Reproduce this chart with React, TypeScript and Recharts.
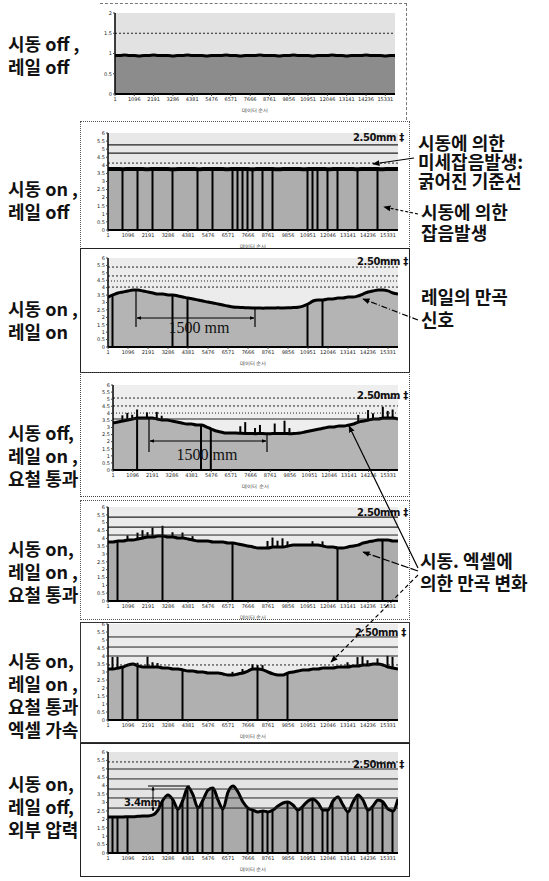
import React from 'react';
import { ComposedChart, Area, Bar, XAxis, YAxis, CartesianGrid, ReferenceLine } from 'recharts';

// ---------- data ----------
const xTickIdx = [0, 4, 8, 12, 16, 20, 24, 28, 32, 36, 40, 44, 48, 52, 56];
const xTickLabels = ['1', '1096', '2191', '3286', '4381', '5476', '6571', '7666', '8761', '9856', '10951', '12046', '13141', '14236', '15331'];
const xTitle = '데이터 순서';

const p1Ticks = [0, 0.5, 1, 1.5, 2];
const mmTicks = [0, 0.5, 1, 1.5, 2, 2.5, 3, 3.5, 4, 4.5, 5, 5.5, 6];

const p1Values = [
  0.95, 0.95, 0.96, 0.95, 0.95, 0.94, 0.95, 0.95, 0.96, 0.95,
  0.95, 0.95, 0.94, 0.95, 0.95, 0.96, 0.95, 0.95, 0.95, 0.94,
  0.95, 0.95, 0.95, 0.96, 0.95, 0.95, 0.94, 0.95, 0.95, 0.95,
  0.96, 0.95, 0.95, 0.95, 0.94, 0.95, 0.95, 0.96, 0.95, 0.95,
  0.95, 0.94, 0.95, 0.95, 0.95, 0.96, 0.95, 0.95, 0.94, 0.95,
  0.95, 0.95, 0.96, 0.95, 0.95, 0.95, 0.94, 0.95, 0.95,
];
const p2Values = [
  3.77, 3.78, 3.77, 3.76, 3.77, 3.78, 3.77, 3.77, 3.76, 3.77,
  3.78, 3.77, 3.77, 3.76, 3.77, 3.77, 3.78, 3.77, 3.76, 3.77,
  3.77, 3.78, 3.77, 3.77, 3.76, 3.77, 3.78, 3.77, 3.77, 3.76,
  3.77, 3.78, 3.77, 3.77, 3.76, 3.77, 3.77, 3.78, 3.77, 3.76,
  3.77, 3.77, 3.78, 3.77, 3.76, 3.77, 3.77, 3.78, 3.77, 3.77,
  3.76, 3.77, 3.78, 3.77, 3.77, 3.76, 3.77, 3.78, 3.77,
];
const p3Values = [
  3.37, 3.51, 3.64, 3.71, 3.78, 3.84, 3.84, 3.78, 3.71, 3.64,
  3.57, 3.57, 3.51, 3.51, 3.44, 3.37, 3.30, 3.24, 3.17, 3.10,
  3.03, 2.97, 2.90, 2.83, 2.76, 2.70, 2.68, 2.66, 2.64, 2.63,
  2.63, 2.62, 2.63, 2.63, 2.64, 2.63, 2.64, 2.66, 2.68, 2.76,
  2.90, 3.10, 3.17, 3.17, 3.24, 3.24, 3.30, 3.30, 3.37, 3.37,
  3.44, 3.57, 3.71, 3.78, 3.84, 3.84, 3.78, 3.64, 3.57,
];
const p4Values = [
  3.32, 3.39, 3.46, 3.53, 3.60, 3.67, 3.67, 3.67, 3.67, 3.60,
  3.53, 3.53, 3.46, 3.39, 3.32, 3.25, 3.25, 3.18, 3.18, 3.04,
  2.89, 2.75, 2.68, 2.61, 2.61, 2.61, 2.59, 2.58, 2.58, 2.56,
  2.58, 2.56, 2.56, 2.58, 2.58, 2.58, 2.56, 2.58, 2.61, 2.68,
  2.75, 2.82, 2.89, 2.96, 3.04, 3.04, 3.11, 3.11, 3.18, 3.25,
  3.39, 3.46, 3.53, 3.60, 3.60, 3.67, 3.67, 3.67, 3.60,
];
const p5Values = [
  3.77, 3.77, 3.83, 3.83, 3.89, 3.89, 3.96, 4.02, 4.09, 4.09,
  4.15, 4.15, 4.09, 4.09, 4.02, 4.02, 3.96, 3.89, 3.83, 3.83,
  3.83, 3.77, 3.77, 3.77, 3.70, 3.70, 3.64, 3.57, 3.51, 3.45,
  3.38, 3.38, 3.38, 3.45, 3.45, 3.45, 3.51, 3.57, 3.57, 3.57,
  3.57, 3.57, 3.57, 3.51, 3.45, 3.45, 3.38, 3.38, 3.45, 3.51,
  3.57, 3.70, 3.77, 3.83, 3.89, 3.89, 3.89, 3.83, 3.83,
];
const p6Values = [
  3.19, 3.19, 3.25, 3.31, 3.44, 3.50, 3.38, 3.31, 3.31, 3.31,
  3.31, 3.25, 3.25, 3.19, 3.19, 3.13, 3.06, 3.06, 3.00, 3.00,
  2.94, 2.94, 2.94, 2.88, 2.81, 2.81, 2.88, 2.94, 3.06, 3.19,
  3.19, 3.13, 3.00, 2.88, 2.81, 2.81, 2.94, 3.00, 3.06, 3.13,
  3.13, 3.19, 3.19, 3.25, 3.25, 3.25, 3.31, 3.31, 3.31, 3.38,
  3.38, 3.44, 3.44, 3.50, 3.50, 3.44, 3.31, 3.25, 3.19,
];
const p7Values = [
  2.14, 2.14, 2.14, 2.14, 2.16, 2.16, 2.18, 2.20, 2.20, 2.26,
  2.55, 3.15, 3.45, 3.15, 2.61, 3.15, 3.92, 3.45, 2.67, 3.15,
  3.74, 3.86, 3.15, 2.61, 3.62, 3.98, 3.62, 3.03, 2.67, 2.55,
  2.44, 2.50, 2.44, 2.55, 2.79, 2.97, 3.03, 2.85, 2.55, 2.79,
  3.09, 3.21, 2.97, 2.55, 2.55, 3.09, 3.33, 2.85, 2.44, 3.03,
  3.45, 3.15, 2.55, 2.79, 3.15, 3.03, 2.61, 2.50, 3.21,
];

// vertical noise lines (sample index) reaching the curve
const p2Posts = [3, 6, 9, 13, 18, 21, 25, 26, 27, 28, 29, 31, 33, 40, 41, 42, 44, 46, 50, 54];
const p3Posts = [1, 13, 16, 40, 43];
const p4Posts = [5, 18, 20];
const p5Posts = [2, 11, 25, 46, 55];
const p6Posts = [3, 6, 15, 30, 36];
const p7Posts = [1, 2, 4, 11, 13, 14, 15, 16, 18, 19, 21, 23, 28, 29, 31, 32, 33, 36, 38, 39, 41, 43, 44, 45, 48, 50, 52, 53, 55, 57];

// small spikes above the curve: [sample index, height]
const p4Spikes = [[2, 0.4], [3, 0.5], [4, 0.3], [5, 0.6], [7, 0.4], [9, 0.5], [10, 0.3], [26, 0.5], [27, 0.8], [29, 0.4], [30, 0.6], [33, 0.7], [35, 0.9], [36, 0.4], [50, 0.5], [52, 0.7], [53, 0.4], [55, 0.8], [56, 0.5], [57, 0.6]];
const p5Spikes = [[4, 0.3], [6, 0.4], [7, 0.5], [8, 0.3], [9, 0.6], [11, 0.65], [13, 0.3], [15, 0.35], [17, 0.25], [32, 0.45], [33, 0.6], [34, 0.4], [35, 0.55], [36, 0.3], [41, 0.25], [43, 0.3]];
const p6Spikes = [[1, 0.75], [2, 0.7], [6, 0.2], [8, 0.65], [9, 0.3], [10, 0.25], [25, 0.2], [27, 0.25], [29, 0.3], [30, 0.25], [31, 0.3], [48, 0.3], [50, 0.55], [51, 0.55], [52, 0.3], [54, 0.35], [56, 0.7], [57, 0.7]];

// horizontal reference lines (value, dash)
const p1Lines = [{ y: 1.5, dash: '2 2', w: 1 }];
const p2Lines = [{ y: 5.26, w: 1.2 }, { y: 4.76, w: 1.2 }, { y: 4.14, dash: '2 2', w: 1 }];
const p3Lines = [{ y: 5.39, dash: '2 2', w: 1 }, { y: 4.79, dash: '2 2', w: 1 }, { y: 4.45, dash: '1 2', w: 1 }, { y: 4.04, dash: '2 2', w: 1 }];
const p4Lines = [{ y: 5.08, dash: '2 2', w: 1 }, { y: 4.52, dash: '2 2', w: 1 }, { y: 4.02, dash: '1 2', w: 1 }, { y: 3.6, w: 1 }];
const p5Lines = [{ y: 5.36, w: 1.2 }, { y: 4.72, w: 1.2 }, { y: 4.21, w: 1 }];
const p6Lines = [{ y: 5.19, w: 1 }, { y: 4.56, w: 1 }, { y: 4.0, w: 1 }, { y: 3.44, dash: '2 2', w: 1 }];
const p7Lines = [{ y: 5.41, dash: '2 2', w: 1 }, { y: 4.99, w: 1 }, { y: 4.4, w: 1 }, { y: 3.8, w: 1 }, { y: 3.27, w: 1 }, { y: 2.67, w: 1 }];

// ---------- layout ----------
const CHART_LEFT = 82;
const CHART_W = 328;

type PanelCfg = {
  values: number[];
  posts: number[];
  spikes: number[][];
  lines: { y: number; dash?: string; w: number }[];
  ticks: number[];
  domain: [number, number];
  plotL: number; plotR: number; plotT: number; plotB: number; top: number;
  fill: string; bg: string; sw: number;
};

const panels: PanelCfg[] = [
  { values: p1Values, posts: [], spikes: [], lines: p1Lines, ticks: p1Ticks, domain: [0, 2], plotL: 115, plotR: 395, plotT: 13, plotB: 94, top: 3, fill: '#8c8c8c', bg: '#e2e2e2', sw: 3 },
  { values: p2Values, posts: p2Posts, spikes: [], lines: p2Lines, ticks: mmTicks, domain: [0, 6], plotL: 108, plotR: 398, plotT: 133, plotB: 230, top: 121, fill: '#adadad', bg: '#e8e8e8', sw: 4 },
  { values: p3Values, posts: p3Posts, spikes: [], lines: p3Lines, ticks: mmTicks, domain: [0, 6], plotL: 108, plotR: 398, plotT: 258, plotB: 347, top: 248, fill: '#b4b4b4', bg: '#ececec', sw: 3 },
  { values: p4Values, posts: p4Posts, spikes: p4Spikes, lines: p4Lines, ticks: mmTicks, domain: [0, 6], plotL: 113, plotR: 398, plotT: 385, plotB: 470, top: 372, fill: '#b4b4b4', bg: '#eeeeee', sw: 3 },
  { values: p5Values, posts: p5Posts, spikes: p5Spikes, lines: p5Lines, ticks: mmTicks, domain: [0, 6], plotL: 108, plotR: 398, plotT: 507, plotB: 601, top: 500, fill: '#acacac', bg: '#ebebeb', sw: 3 },
  { values: p6Values, posts: p6Posts, spikes: p6Spikes, lines: p6Lines, ticks: mmTicks, domain: [0, 6], plotL: 108, plotR: 398, plotT: 624, plotB: 720, top: 622, fill: '#b0b0b0', bg: '#ececec', sw: 3 },
  { values: p7Values, posts: p7Posts, spikes: [], lines: p7Lines, ticks: mmTicks, domain: [0, 6], plotL: 108, plotR: 398, plotT: 752, plotB: 853, top: 743, fill: '#aaaaaa', bg: '#e4e4e4', sw: 3 },
];

const boxes = [
  { l: 80, t: 121, r: 410, b: 249, s: '1px dotted #555' },
  { l: 80, t: 248, r: 410, b: 373, s: '1.5px solid #222' },
  { l: 80, t: 372, r: 410, b: 497, s: '1px dotted #444' },
  { l: 80, t: 500, r: 410, b: 620, s: '1px dotted #555' },
  { l: 80, t: 622, r: 410, b: 743, s: '1px solid #333' },
  { l: 80, t: 743, r: 410, b: 877, s: '1.5px solid #222' },
];

const leftLabels = [
  { top: 32, lines: ['시동 off ,', '레일 off'] },
  { top: 177, lines: ['시동 on ,', '레일 off'] },
  { top: 297, lines: ['시동 on ,', '레일 on'] },
  { top: 421, lines: ['시동 off,', '레일 on ,', '요철 통과'] },
  { top: 537, lines: ['시동 on,', '레일 on ,', '요철 통과'] },
  { top: 649, lines: ['시동 on,', '레일 on ,', '요철 통과', '엑셀 가속'] },
  { top: 772, lines: ['시동 on,', '레일 off,', '외부 압력'] },
];

const rightNotes = [
  { left: 418, top: 133, lh: 19, lines: ['시동에 의한', '미세잡음발생:', '굵어진 기준선'] },
  { left: 421, top: 201, lh: 21, lines: ['시동에 의한', '잡음발생'] },
  { left: 421, top: 285, lh: 23, lines: ['레일의 만곡', '신호'] },
  { left: 420, top: 549, lh: 22, lines: ['시동. 엑셀에', '의한 만곡 변화'] },
];

const scaleMarks = [
  { x: 353, y: 141 },
  { x: 357, y: 265 },
  { x: 357, y: 399 },
  { x: 357, y: 516 },
  { x: 355, y: 636 },
  { x: 353, y: 768 },
];

const KFONT = '"Noto Sans CJK KR", "Noto Sans", sans-serif';

function Panel({ cfg }: { cfg: PanelCfg }) {
  const rows = cfg.values.map((v, i) => {
    const sp = cfg.spikes.find((s) => s[0] === i);
    const isPost = cfg.posts.includes(i);
    let bar: number[] | null = null;
    if (isPost && sp) bar = [0, v + sp[1]];
    else if (isPost) bar = [0, v];
    else if (sp) bar = [v, v + sp[1]];
    return { x: i, v, bar };
  });
  const xH = 18;
  const height = cfg.plotB - cfg.top + xH + 2;
  const margin = { top: cfg.plotT - cfg.top, right: CHART_LEFT + CHART_W - cfg.plotR, bottom: 2, left: 0 };
  const yW = cfg.plotL - CHART_LEFT;
  return (
    <div style={{ position: 'absolute', left: CHART_LEFT, top: cfg.top }}>
      <ComposedChart width={CHART_W} height={height} data={rows} margin={margin}>
        <CartesianGrid horizontal={false} vertical={false} fill={cfg.bg} stroke="none" />
        {cfg.lines.map((l, k) => (
          <ReferenceLine key={k} y={l.y} stroke="#222" strokeWidth={l.w} strokeDasharray={l.dash} />
        ))}
        <XAxis
          dataKey="x"
          type="number"
          domain={[0, 58]}
          ticks={xTickIdx}
          interval={0}
          tickFormatter={(v: number) => xTickLabels[xTickIdx.indexOf(v)] ?? ''}
          tick={{ fontSize: 5, fill: '#222', fontFamily: 'DejaVu Sans' }}
          tickSize={2}
          tickMargin={1}
          height={xH}
          axisLine={{ stroke: '#000', strokeWidth: 2 }}
          tickLine={{ stroke: '#444' }}
          label={{ value: xTitle, position: 'insideBottom', offset: 0, fontSize: 5, fill: '#222' }}
          allowDataOverflow
        />
        <YAxis
          type="number"
          domain={cfg.domain}
          ticks={cfg.ticks}
          interval={0}
          width={yW}
          tick={{ fontSize: 5, fill: '#222', fontFamily: 'DejaVu Sans' }}
          tickSize={2}
          tickMargin={1}
          axisLine={{ stroke: '#000', strokeWidth: 1.5 }}
          tickLine={{ stroke: '#444' }}
          allowDataOverflow
        />
        <Area
          dataKey="v"
          type="monotone"
          stroke="#000"
          strokeWidth={cfg.sw}
          fill={cfg.fill}
          fillOpacity={1}
          dot={false}
          activeDot={false}
          isAnimationActive={false}
        />
        <Bar dataKey="bar" barSize={2} fill="#000" isAnimationActive={false} />
      </ComposedChart>
    </div>
  );
}

export default function App() {
  return (
    <div style={{ position: 'absolute', left: 0, top: 0, width: 549, height: 881, background: '#fff', overflow: 'hidden' }}>
      {/* panel frames */}
      <div style={{ position: 'absolute', left: 100, top: 3, width: 306, height: 116, borderTop: '1px dashed #777', borderRight: '1px dashed #777' }} />
      {boxes.map((b, i) => (
        <div key={i} style={{ position: 'absolute', left: b.l, top: b.t, width: b.r - b.l, height: b.b - b.t, border: b.s, boxSizing: 'border-box' }} />
      ))}

      {panels.map((p, i) => (
        <Panel key={i} cfg={p} />
      ))}

      {leftLabels.map((g, i) => (
        <div key={i} style={{ position: 'absolute', left: 8, top: g.top, fontFamily: KFONT, fontWeight: 700, fontSize: 18, lineHeight: '23px', color: '#111', whiteSpace: 'pre' }}>
          {g.lines.join('\n')}
        </div>
      ))}
      {rightNotes.map((g, i) => (
        <div key={i} style={{ position: 'absolute', left: g.left, top: g.top, fontFamily: KFONT, fontWeight: 700, fontSize: 18, lineHeight: `${g.lh}px`, color: '#111', whiteSpace: 'pre' }}>
          {g.lines.join('\n')}
        </div>
      ))}

      {/* annotation overlay */}
      <svg width={549} height={881} style={{ position: 'absolute', left: 0, top: 0, pointerEvents: 'none' }}>
        <defs>
          <marker id="ah" viewBox="0 0 10 10" refX="9" refY="5" markerWidth="6" markerHeight="6" orient="auto-start-reverse">
            <path d="M0,1 L10,5 L0,9 z" fill="#000" />
          </marker>
          <marker id="ahs" viewBox="0 0 10 10" refX="9" refY="5" markerWidth="4" markerHeight="4" orient="auto-start-reverse">
            <path d="M0,1 L10,5 L0,9 z" fill="#000" />
          </marker>
        </defs>
        {scaleMarks.map((m, i) => (
          <text key={i} x={m.x} y={m.y} fontSize={10} fontWeight={700} fontFamily="DejaVu Sans" fill="#111" letterSpacing={-0.4}>
            2.50mm ‡
          </text>
        ))}

        {/* pointer lines */}
        <line x1={414} y1={158} x2={373} y2={164} stroke="#000" strokeWidth={1.2} markerEnd="url(#ah)" />
        <line x1={418} y1={214} x2={384} y2={207} stroke="#000" strokeWidth={1.2} strokeDasharray="3 2" markerEnd="url(#ah)" />
        <line x1={418} y1={320} x2={363} y2={299} stroke="#000" strokeWidth={1.2} strokeDasharray="6 2 1 2" markerEnd="url(#ah)" />
        <line x1={418} y1={568} x2={349} y2={426} stroke="#000" strokeWidth={1.2} markerEnd="url(#ah)" />
        <line x1={418} y1={571} x2={363} y2={552} stroke="#000" strokeWidth={1.2} strokeDasharray="8 2" markerEnd="url(#ah)" />
        <line x1={418} y1={575} x2={331} y2={662} stroke="#000" strokeWidth={1.2} strokeDasharray="4 3" markerEnd="url(#ah)" />

        {/* 1500 mm dimension, panel 3 */}
        <line x1={136} y1={290} x2={136} y2={327} stroke="#000" strokeWidth={1.2} />
        <line x1={255} y1={307} x2={255} y2={327} stroke="#000" strokeWidth={1.2} />
        <line x1={137} y1={318} x2={254} y2={318} stroke="#000" strokeWidth={1.2} markerStart="url(#ahs)" markerEnd="url(#ahs)" />
        <text x={199} y={333} textAnchor="middle" fontSize={16} fontFamily="Liberation Serif" fill="#111">1500 mm</text>

        {/* 1500 mm dimension, panel 4 */}
        <line x1={149} y1={418} x2={149} y2={452} stroke="#000" strokeWidth={1.2} />
        <line x1={267} y1={433} x2={267} y2={452} stroke="#000" strokeWidth={1.2} />
        <line x1={150} y1={441} x2={266} y2={441} stroke="#000" strokeWidth={1.2} markerStart="url(#ahs)" markerEnd="url(#ahs)" />
        <text x={207} y={460} textAnchor="middle" fontSize={16} fontFamily="Liberation Serif" fill="#111">1500 mm</text>

        {/* 3.4mm dimension, panel 7 */}
        <line x1={148} y1={786} x2={190} y2={786} stroke="#000" strokeWidth={1} />
        <line x1={153} y1={787} x2={153} y2={811} stroke="#000" strokeWidth={1} markerStart="url(#ahs)" markerEnd="url(#ahs)" />
        <text x={124} y={806} fontSize={10} fontWeight={700} fontFamily="DejaVu Sans" fill="#111" letterSpacing={-0.4}>3.4mm</text>
      </svg>
    </div>
  );
}
